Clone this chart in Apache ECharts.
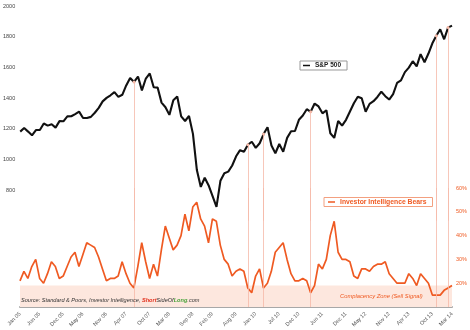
<!DOCTYPE html>
<html><head><meta charset="utf-8">
<script src="https://cdn.jsdelivr.net/npm/echarts@6/dist/echarts.min.js"></script>
<style>html,body{margin:0;padding:0;background:#fff}#c{width:470px;height:330px}</style>
</head><body><div id="c"></div>
<script>
const months = ['Jan','Feb','Mar','Apr','May','Jun','Jul','Aug','Sep','Oct','Nov','Dec'];
const categories = [];
for (let y = 5; y <= 14; y++) for (let m = 0; m < 12; m++) {
  if (y === 14 && m > 2) break;
  categories.push(months[m] + ' ' + String(y).padStart(2, '0'));
}
const sp500 = [
 1181,1204,1181,1157,1191,1191,1234,1220,1229,1207,1249,1248,
 1280,1281,1295,1311,1270,1270,1277,1304,1336,1378,1401,1418,
 1438,1407,1421,1482,1531,1505,1540,1450,1527,1560,1470,1468,
 1370,1340,1290,1386,1410,1280,1250,1283,1166,930,820,880,
 830,760,690,860,910,920,960,1020,1060,1050,1095,1115,
 1075,1105,1165,1210,1090,1040,1100,1050,1140,1183,1185,1258,
 1286,1327,1310,1364,1345,1300,1320,1170,1140,1250,1220,1258,
 1312,1366,1408,1398,1310,1362,1379,1407,1441,1412,1390,1426,
 1498,1515,1569,1598,1640,1606,1686,1633,1690,1757,1806,1848,
 1783,1859,1872];
const bears = [
 21,25,22,27,30,22,20,24,29,27,22,23,
 27,31,33,27,32,37,36,35,31,26,21,22,
 22,23,29,24,20,18,27,37,29,22,28,23,
 34,44,39,34,36,40,49,42,52,54,47,44,
 37,47,46,36,30,28,23,25,26,25,18,16,
 23,26,18,20,25,33,35,37,30,24,21,21,
 22,21,16,19,28,26,30,40,46,33,30,30,
 29,23,22,26,26,25,27,28,28,29,24,22,
 20,20,20,24,22,19,24,22,20,15,15,15,
 17,18,19];
const signalMonths = ['Jun 07','Nov 09','Mar 10','Mar 11','Nov 13','Feb 14'];
const xTickLabels = ['Jan 05','Jun 05','Dec 05','May 06','Nov 06','Apr 07','Oct 07','Mar 08','Sep 08','Feb 09','Aug 09','Jan 10','Jul 10','Dec 10','Jun 11','Dec 11','May 12','Nov 12','Apr 13','Oct 13','Mar 14'];
const spTicks = [800,1000,1200,1400,1600,1800,2000];
const bearTicks = [20,30,40,50,60];
const complacencyTop = 19;

const FONT = 'Liberation Sans';
const ORANGE = '#ef5a22';
const chart = echarts.init(document.getElementById('c'), null, {renderer:'canvas'});
const spIdx = m => categories.indexOf(m);

chart.setOption({
  animation: false,
  backgroundColor: '#fff',
  textStyle: {fontFamily: FONT},
  grid: [
    {left: 20, right: 18, top: 6, height: 214.7},
    {left: 20, right: 18, top: 188, height: 120}
  ],
  legend: [
    {data: ['S&P 500'], left: 300, top: 61, orient: 'horizontal', icon: 'rect', itemWidth: 7, itemHeight: 1.5, itemGap: 2,
     padding: [1, 6, 1, 3], borderColor: '#999', borderWidth: 1, backgroundColor: '#fff',
     textStyle: {fontSize: 6.5, fontWeight: 'bold', color: '#222', fontFamily: FONT}},
    {data: ['Investor Intelligence Bears'], left: 324, top: 197.5, icon: 'rect', itemWidth: 7, itemHeight: 1.5, itemGap: 2,
     padding: [1, 6, 1, 4], borderColor: '#f3a080', borderWidth: 1, backgroundColor: '#fff',
     textStyle: {fontSize: 6.8, fontWeight: 'bold', color: ORANGE, fontFamily: FONT}}
  ],
  xAxis: [
    {gridIndex: 0, type: 'category', data: categories, boundaryGap: false, show: false},
    {gridIndex: 1, type: 'category', data: categories, boundaryGap: false,
     axisLine: {lineStyle: {color: '#a8a8a8', width: 2}}, axisTick: {show: false},
     axisLabel: {rotate: 45, fontSize: 5.5, color: '#555', margin: 6,
       interval: (i, v) => xTickLabels.includes(v)}}
  ],
  yAxis: [
    {gridIndex: 0, type: 'value', min: 600, max: 2000, interval: 200, position: 'left',
     splitLine: {show: false}, axisLine: {show: false}, axisTick: {show: false},
     axisLabel: {fontSize: 5.5, color: '#444', margin: 5,
       formatter: v => spTicks.includes(v) ? String(v) : ''}},
    {gridIndex: 1, type: 'value', min: 10, max: 60, interval: 10, position: 'right',
     splitLine: {show: false}, axisLine: {show: false}, axisTick: {show: false},
     axisLabel: {fontSize: 5.5, color: ORANGE, margin: 4,
       formatter: v => bearTicks.includes(v) ? v + '%' : ''}}
  ],
  series: [
    {name: 'Investor Intelligence Bears', type: 'line', xAxisIndex: 1, yAxisIndex: 1, data: bears,
     showSymbol: false, z: 3, lineStyle: {color: ORANGE, width: 1.7}, itemStyle: {color: ORANGE},
     markArea: {silent: true, itemStyle: {color: '#fde7de'},
       data: [[{yAxis: 10}, {yAxis: complacencyTop}]]},
     markLine: {silent: true, symbol: 'none', label: {show: false},
       lineStyle: {color: '#f5b9a8', width: 0.8, type: 'solid'},
       data: signalMonths.map(m => [{coord: [m, 60]}, {coord: [m, 10]}])}},
    {name: 'S&P 500', type: 'line', xAxisIndex: 0, yAxisIndex: 0, data: sp500,
     showSymbol: false, z: 4, lineStyle: {color: '#111', width: 2.1}, itemStyle: {color: '#111'},
     markLine: {silent: true, label: {show: false}, symbol: ['circle', 'none'], symbolSize: 3,
       lineStyle: {color: '#f5b9a8', width: 0.8, type: 'solid'}, itemStyle: {color: '#e8402a'},
       data: signalMonths.map(m => [{coord: [m, sp500[spIdx(m)]]}, {coord: [m, 600]}])}}
  ],
  graphic: [
    {type: 'text', left: 21, top: 297.5, z: 10,
     style: {text: '{a|Source: Standard & Poors, Investor Intelligence, }{r|Short}{a|SideOf}{g|Long}{a|.com}',
       rich: {
         a: {fontSize: 5.6, fontStyle: 'italic', fill: '#333', fontFamily: FONT},
         r: {fontSize: 5.6, fontStyle: 'italic', fontWeight: 'bold', fill: '#e2301c', fontFamily: FONT},
         g: {fontSize: 5.6, fontStyle: 'italic', fontWeight: 'bold', fill: '#49a33b', fontFamily: FONT}
       }}},
    {type: 'text', left: 340, top: 293, z: 10,
     style: {text: 'Complacency Zone (Sell Signal)', fontSize: 5.8, fontStyle: 'italic', fill: ORANGE, fontFamily: FONT}}
  ]
});
</script></body></html>
